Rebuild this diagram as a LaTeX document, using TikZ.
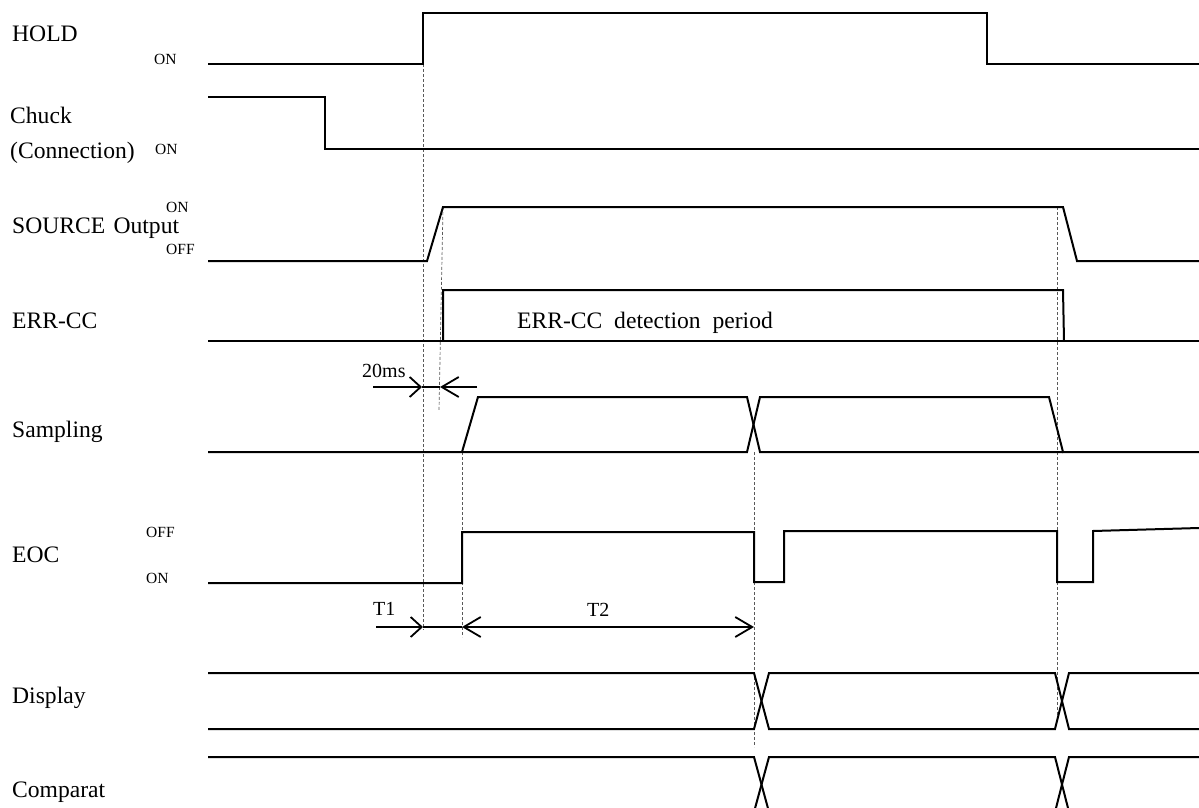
\documentclass[tikz,border=0pt]{standalone}
\usepackage{fontspec}
\setmainfont{Liberation Serif}
\usetikzlibrary{arrows.meta}
\begin{document}
\begin{tikzpicture}[x=1pt,y=-1pt,
  sig/.style={line width=2pt, line join=miter},
  guide/.style={black!65, line width=0.7pt, dash pattern=on 3pt off 2pt},
  dim/.style={line width=1.8pt},
  shorttip/.style={-{Straight Barb[length=11pt,width=20pt]}},
  longtip/.style={-{Straight Barb[length=17pt,width=20pt]}},
  bothlong/.style={{Straight Barb[length=17pt,width=20pt]}-{Straight Barb[length=17pt,width=20pt]}},
  lbl/.style={anchor=base west, inner sep=0pt, font=\fontsize{23.6}{28}\selectfont},
  sm/.style={anchor=base west, inner sep=0pt, font=\fontsize{15.5}{18}\selectfont},
  tm/.style={anchor=base west, inner sep=0pt, font=\fontsize{20}{24}\selectfont}]
\useasboundingbox (0,0) rectangle (1199,808);
\clip (0,0) rectangle (1199,808);

% labels
\node[lbl] (hold) at (12,42) {HOLD};
\node[sm] (holdon) at (154,65) {ON};
\node[lbl] (chuck) at (10,123) {Chuck};
\node[lbl] (conn) at (10,158) {(Connection)};
\node[sm] (chuckon) at (155,154) {ON};
\node[lbl] (src) at (12,233) {SOURCE\hspace{0.35em}Output};
\node[sm] (srcon) at (166,212) {ON};
\node[sm] (srcoff) at (166,254) {OFF};
\node[lbl] (err) at (12,328) {ERR-CC};
\node[lbl] (errp) at (517,328) {ERR-CC\hspace{0.5em}detection\hspace{0.5em}period};
\node[lbl] (samp) at (12,437) {Sampling};
\node[lbl] (eoc) at (12,562) {EOC};
\node[sm] (eocoff) at (146,537) {OFF};
\node[sm] (eocon) at (146,583) {ON};
\node[lbl] (disp) at (12,703) {Display};
\node[lbl] (comp) at (12,797) {Comparat};
\node[tm] (t20) at (362,377) {20ms};
\node[tm] (t1) at (373,615) {T1};
\node[tm] (t2) at (587,616) {T2};

% guide lines
\draw[guide] (423,64) -- (423,630);
\draw[guide] (443,207) -- (439,410);
\draw[guide] (462,452) -- (462,637);
\draw[guide] (754,452) -- (754,747);
\draw[guide] (1057,207) -- (1057,718);

% HOLD
\draw[sig] (208,64) -- (423,64) -- (423,13) -- (987,13) -- (987,64) -- (1199,64);
% Chuck
\draw[sig] (208,97) -- (325,97) -- (325,149) -- (1199,149);
% SOURCE
\draw[sig] (208,261) -- (427,261) -- (443,207) -- (1063,207) -- (1077,261) -- (1199,261);
% ERR-CC
\draw[sig] (208,341) -- (1199,341);
\draw[sig] (443,341) -- (443,290) -- (1063,290) -- (1064,341);
% Sampling
\draw[sig] (208,452) -- (747,452) -- (760,397) -- (1049,397) -- (1063,452) -- (1199,452);
\draw[sig] (462,452) -- (478,397) -- (747,397) -- (760,452) -- (1063,452);
% EOC
\draw[sig] (208,583) -- (462,583) -- (462,532) -- (754,532) -- (754,582) -- (784,582) -- (784,531)
  -- (1057,531) -- (1057,582) -- (1093,582) -- (1093,531) -- (1199,528);
% Display
\draw[sig] (208,673) -- (754,673) -- (769,729) -- (1055,729) -- (1069,673) -- (1199,673);
\draw[sig] (208,729) -- (754,729) -- (769,673) -- (1055,673) -- (1069,729) -- (1199,729);
% Comparat
\draw[sig] (208,757) -- (754,757) -- (769,812) -- (1055,812) -- (1069,757) -- (1199,757);
\draw[sig] (208,812) -- (754,812) -- (769,757) -- (1055,757) -- (1069,812) -- (1199,812);

% dimension arrows
\coordinate (a1) at (373,387);
\coordinate (a2) at (422,387);
\coordinate (a3) at (440,387);
\coordinate (a4) at (477,387);
\draw[dim,shorttip] (a1) -- (a2);
\draw[dim] (a2) -- (a3);
\draw[dim,longtip] (a4) -- (a3);

\coordinate (b1) at (376,627);
\coordinate (b2) at (423,627);
\coordinate (b3) at (462,627);
\coordinate (b4) at (754,627);
\draw[dim,shorttip] (b1) -- (b2);
\draw[dim] (b2) -- (b3);
\draw[dim,bothlong] (b3) -- (b4);
\end{tikzpicture}
\end{document}
